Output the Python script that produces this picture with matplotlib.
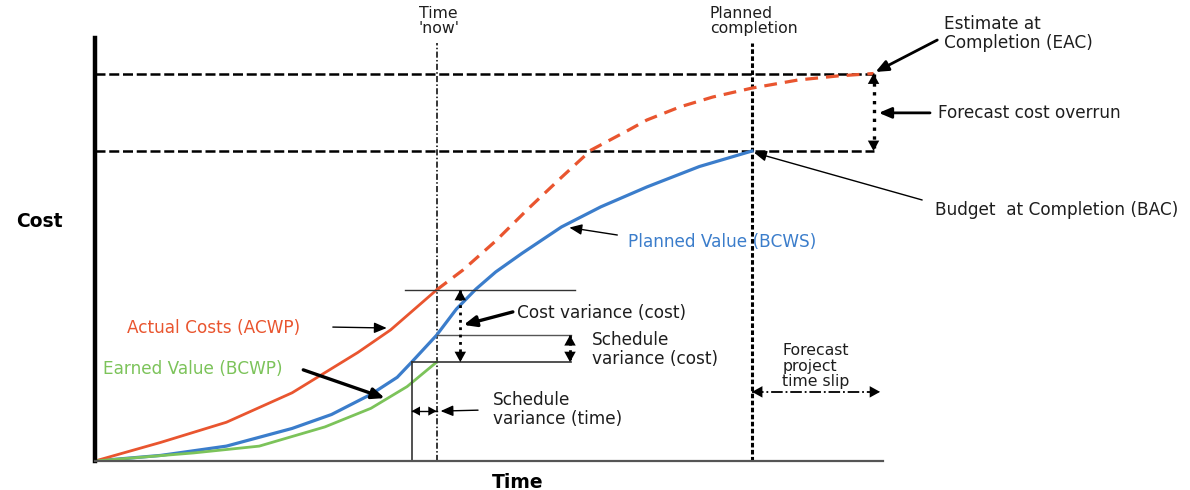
import matplotlib
matplotlib.use("Agg")
import matplotlib.pyplot as plt
import numpy as np

# Earned value chart, time in % of planned duration, cost in % of budget
pv_t = [0, 10, 20, 30, 36, 42, 46, 48.2, 52, 55, 58, 61, 65, 71, 77, 84, 92, 100]
pv_c = [0, 1.8, 4.8, 10.5, 15, 21.5, 27, 31.9, 40.6, 49, 55.5, 61, 67, 75.5, 82, 88.4, 95, 100]

ac_t = [0, 10, 20, 30, 40, 45, 52]
ac_c = [0, 6, 12.5, 22, 35, 42.3, 55.2]

fc_t = [52, 56, 61, 66, 71, 75.5, 81, 84, 89, 94, 100, 107, 113, 118.5]
fc_c = [55.2, 61.6, 71, 81.5, 91.5, 100.3, 106.5, 110, 114.2, 117.4, 120.3, 122.9, 124.2, 125]

ev_t = [0, 15, 25, 35, 42, 47.5, 52]
ev_c = [0, 2.6, 4.8, 11, 17, 24, 31.9]

t_now = 52
t_planned = 100
t_forecast = 119.5
t_es = 48.2          # time at which PV equals today's EV
bac = 100
eac = 125
acwp_now = 55.2
bcws_now = 40.6
bcwp_now = 31.9

RED = "#e9552f"
BLUE = "#3b7dcb"
GREEN = "#7cc35a"

fig = plt.figure(figsize=(11.9, 4.9), dpi=100)
ax = fig.add_axes([95 / 1190, 29 / 490, 1095 / 1190, 461 / 490])
ax.set_xlim(0, 1095 / 6.57)
ax.set_ylim(0, 461 / 3.1)
for s in ["top", "right"]:
    ax.spines[s].set_visible(False)
ax.spines["left"].set_linewidth(3.2)
ax.spines["left"].set_bounds(0, 136.5)
ax.spines["bottom"].set_color("#555555")
ax.spines["bottom"].set_linewidth(1.6)
ax.spines["bottom"].set_bounds(0, 120)
ax.set_xticks([])
ax.set_yticks([])

FS = 12.2
INK = "#1e1e1e"


def head(tip, frm, size=0.75):
    ax.annotate("", xy=tip, xytext=frm,
                arrowprops=dict(arrowstyle="-|>,head_length=%s,head_width=%s" % (size, size * 0.55),
                                color="k", lw=0, shrinkA=0, shrinkB=0))


def dbl(x0, y0, x1, y1, ls, lw=1.8, size=0.75):
    ax.plot([x0, x1], [y0, y1], color="k", ls=ls, lw=lw)
    dx, dy = (x1 - x0) * 0.02, (y1 - y0) * 0.02
    head((x0, y0), (x0 + dx, y0 + dy), size)
    head((x1, y1), (x1 - dx, y1 - dy), size)


def pointer(frm, tip, lw=1.2):
    ax.annotate("", xy=tip, xytext=frm,
                arrowprops=dict(arrowstyle="-|>,head_length=0.75,head_width=0.32",
                                color="k", lw=lw, shrinkA=0, shrinkB=0))


# reference lines
ax.plot([0, 118.5], [eac, eac], color="k", lw=1.8, ls=(0, (4, 1.5)))
ax.plot([0, 118.5], [bac, bac], color="k", lw=1.8, ls=(0, (4, 1.5)))
ax.plot([t_now, t_now], [0, 135], color="k", lw=1.1, ls=(0, (4, 1.5, 1, 1.5)))
ax.plot([t_planned, t_planned], [0, 135], color="k", lw=2.2, ls=(0, (1.5, 0.8)))

# curves
ax.plot(pv_t, pv_c, color=BLUE, lw=2.3)
ax.plot(ac_t, ac_c, color=RED, lw=2.0)
ax.plot(fc_t, fc_c, color=RED, lw=2.3, ls=(0, (4, 2.5)))
ax.plot(ev_t, ev_c, color=GREEN, lw=2.0)

# variance guide lines
ax.plot([47.2, 73], [acwp_now, acwp_now], color="#333333", lw=1.0)
ax.plot([t_now, 72.5], [bcws_now, bcws_now], color="#555555", lw=1.0)
ax.plot([t_es, 72.5], [bcwp_now, bcwp_now], color="#333333", lw=1.2)
ax.plot([t_es, t_es], [0, bcwp_now], color="#333333", lw=1.2)

# double arrows
dbl(55.6, acwp_now, 55.6, bcwp_now, ":", lw=2.0)
dbl(72.3, bcws_now, 72.3, bcwp_now, ":", lw=2.0)
dbl(t_es, 16.1, t_now, 16.1, "-", lw=1.0, size=0.6)
dbl(118.5, eac, 118.5, bac, ":", lw=2.4)
dbl(t_planned, 22.3, t_forecast, 22.3, "-.", lw=1.3)

# pointers
pointer((128.2, 135.8), (118.8, 125.5), lw=2.0)
pointer((127.1, 112.3), (119.3, 112.3), lw=2.0)
pointer((125.9, 84.2), (100.3, 99.5), lw=1.0)
pointer((79.5, 72.9), (72.2, 75.3), lw=1.0)
pointer((36.2, 43.2), (44.4, 42.9), lw=1.0)
pointer((31.7, 29.4), (44.1, 20.3), lw=2.4)
pointer((63.6, 48.1), (56.1, 43.9), lw=2.4)
pointer((58.3, 16.4), (52.6, 16.1), lw=1.0)

# labels
txt = dict(fontsize=FS, color=INK, va="center", ha="left")
small = dict(fontsize=11.3, color=INK, va="center", ha="left", linespacing=1.05)
ax.text(49.3, 141.9, "Time\n'now'", **small)
ax.text(93.6, 141.9, "Planned\ncompletion", **small)
ax.text(129.2, 138.0, "Estimate at\nCompletion (EAC)", linespacing=1.1, **txt)
ax.text(128.3, 112.3, "Forecast cost overrun", **txt)
ax.text(127.9, 81.0, "Budget  at Completion (BAC)", **txt)
ax.text(81.1, 70.6, "Planned Value (BCWS)", fontsize=FS, color=BLUE, va="center", ha="left")
ax.text(4.9, 42.9, "Actual Costs (ACWP)", fontsize=FS, color=RED, va="center", ha="left")
ax.text(1.2, 29.7, "Earned Value (BCWP)", fontsize=FS, color=GREEN, va="center", ha="left")
ax.text(64.2, 47.7, "Cost variance (cost)", **txt)
ax.text(75.6, 36.0, "Schedule\nvariance (cost)", linespacing=1.1, **txt)
ax.text(60.6, 16.6, "Schedule\nvariance (time)", linespacing=1.1, **txt)
ax.text(104.6, 30.6, "Forecast\nproject\ntime slip", **small)
ax.text(-8.5, 77.1, "Cost", fontsize=13.5, fontweight="bold", ha="center", va="center")
ax.text(64.4, -6.8, "Time", fontsize=13.5, fontweight="bold", ha="center", va="center")

fig.savefig("out.png", dpi=100)
